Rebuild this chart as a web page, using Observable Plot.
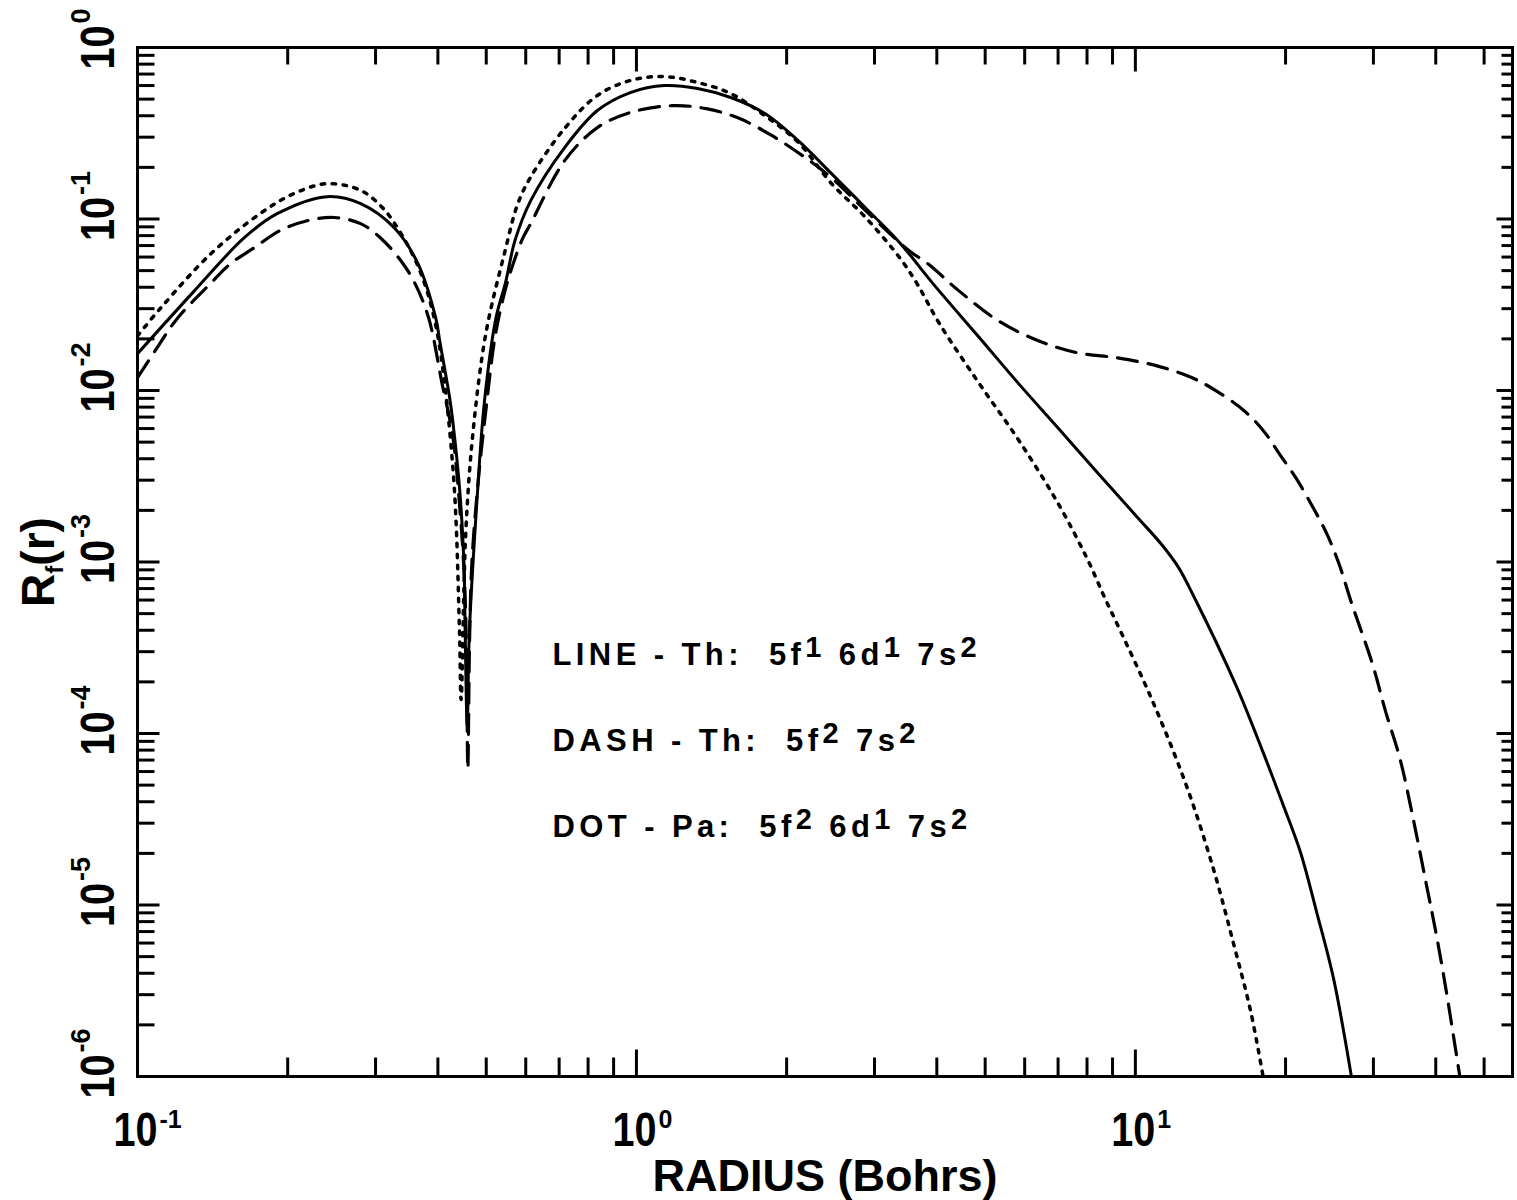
<!DOCTYPE html>
<html><head><meta charset="utf-8">
<script src="https://cdn.jsdelivr.net/npm/d3@7"></script>
<script src="https://cdn.jsdelivr.net/npm/@observablehq/plot@0.6"></script>
<style>html,body{margin:0;padding:0;background:#fff}</style>
</head><body><div id="chart"></div>
<script>
// ---- data: radius (Bohrs) and R_f(r) ----
const solidRadius = [0.1, 0.13, 0.1637, 0.1905, 0.24, 0.28, 0.327, 0.365, 0.396, 0.404, 0.422, 0.428, 0.443, 0.451, 0.4536, 0.458, 0.4624, 0.479, 0.496, 0.523, 0.547, 0.571, 0.614, 0.718, 0.835, 0.972, 1.138, 1.326, 1.545, 1.81, 2.11, 2.46, 2.88, 3.37, 3.93, 4.87, 5.84, 7.0, 8.44, 10.1, 11.3, 12.2, 13.06, 15.87, 18.0, 19.76, 21.4, 23.07, 24.96, 27.1];
const solidValue  = [0.0164, 0.0381, 0.0778, 0.1074, 0.135, 0.123, 0.089, 0.0548, 0.0265, 0.019, 0.0092, 0.0068, 0.0025, 0.0010, 0.0004, 0.00011, 0.00038, 0.00227, 0.0087, 0.0265, 0.043, 0.075, 0.128, 0.261, 0.429, 0.546, 0.600, 0.577, 0.511, 0.412, 0.286, 0.184, 0.116, 0.0728, 0.042, 0.0203, 0.01093, 0.00605, 0.00326, 0.00182, 0.00126, 0.00093, 0.00064, 0.000194, 0.0000787, 0.0000386, 0.0000205, 0.00000916, 0.00000372, 0.000001];

const dashRadius = [0.1, 0.1084, 0.1204, 0.14, 0.1535, 0.1714, 0.193, 0.2188, 0.248, 0.28, 0.3066, 0.3373, 0.36, 0.3833, 0.408, 0.428, 0.443, 0.452, 0.456, 0.4593, 0.463, 0.468, 0.482, 0.50, 0.52, 0.545, 0.57, 0.5925, 0.614, 0.718, 0.835, 0.972, 1.18, 1.38, 1.61, 1.87, 2.18, 2.46, 2.88, 3.52, 3.84, 4.43, 5.31, 6.39, 7.67, 9.22, 11.05, 13.0, 14.52, 16.54, 18.07, 19.45, 20.98, 22.5, 24.2, 25.6, 27.1, 29.87, 31.72, 33.9, 36.03, 38.3, 40.1, 42.0, 44.7];
const dashValue  = [0.0119, 0.017, 0.0265, 0.042, 0.0548, 0.068, 0.0855, 0.0977, 0.102, 0.094, 0.0778, 0.0571, 0.042, 0.0265, 0.0109, 0.0055, 0.0020, 0.0008, 0.00035, 0.000062, 0.00035, 0.0010, 0.003, 0.008, 0.02, 0.038, 0.058, 0.0778, 0.094, 0.219, 0.341, 0.418, 0.458, 0.440, 0.385, 0.306, 0.228, 0.174, 0.112, 0.0653, 0.0548, 0.0381, 0.0255, 0.0195, 0.01657, 0.01549, 0.01392, 0.01186, 0.00995, 0.0076, 0.00581, 0.00426, 0.00309, 0.00218, 0.00146, 0.000973, 0.00058, 0.000254, 0.000135, 0.0000716, 0.000032, 0.0000132, 0.00000673, 0.00000313, 0.000001];

const dotRadius = [0.1, 0.111, 0.1397, 0.176, 0.2057, 0.24, 0.28, 0.3066, 0.327, 0.365, 0.396, 0.4287, 0.4418, 0.4452, 0.4548, 0.47, 0.499, 0.5455, 0.578, 0.614, 0.72, 0.835, 0.972, 1.138, 1.326, 1.545, 1.81, 2.11, 2.46, 2.88, 3.37, 3.65, 4.05, 4.87, 5.85, 7.01, 8.0, 8.69, 9.28, 10.83, 12.63, 14.33, 15.75, 17.03, 18.03];
const dotValue  = [0.0208, 0.030, 0.062, 0.1074, 0.1405, 0.1607, 0.147, 0.12, 0.095, 0.053, 0.024, 0.00353, 0.00041, 0.000158, 0.00146, 0.00558, 0.0214, 0.0653, 0.122, 0.176, 0.341, 0.525, 0.642, 0.677, 0.625, 0.539, 0.40, 0.28, 0.161, 0.102, 0.0594, 0.042, 0.0245, 0.01093, 0.00508, 0.00218, 0.00105, 0.000615, 0.000411, 0.000154, 0.0000505, 0.0000163, 0.00000588, 0.00000239, 0.000001];

// ---- axes ----
const xMajor = [0.1, 1, 10];
const xTickLabels = ["10^{-1}", "10^{0}", "10^{1}"];
const xMinor = [0.2, 0.3, 0.4, 0.5, 0.6, 0.7, 0.8, 0.9, 2, 3, 4, 5, 6, 7, 8, 9, 20, 30, 40, 50];
const yMajor = [1e-6, 1e-5, 1e-4, 1e-3, 1e-2, 1e-1, 1];
const yTickLabels = ["10^{-6}", "10^{-5}", "10^{-4}", "10^{-3}", "10^{-2}", "10^{-1}", "10^{0}"];
const yMinor = yMajor.slice(0, -1).flatMap(p => [2, 3, 4, 5, 6, 7, 8, 9].map(k => k * p));

const xTitle = "RADIUS (Bohrs)";
const yTitle = "R_{f}(r)";
const legendLines = [
  "LINE - Th:\u00a0\u00a05f^{1} 6d^{1} 7s^{2}",
  "DASH - Th:\u00a0\u00a05f^{2} 7s^{2}",
  "DOT - Pa:\u00a0\u00a05f^{2} 6d^{1} 7s^{2}"
];

const rows = (rs, vs) => rs.map((r, i) => ({r, v: vs[i]}));
const solid = rows(solidRadius, solidValue);
const dashed = rows(dashRadius, dashValue);
const dotted = rows(dotRadius, dotValue);

const sans = "'Liberation Sans', Arial, Helvetica, sans-serif";

const tickShape = {draw(ctx, l) { ctx.moveTo(0, 0); ctx.lineTo(0, -l); }};
function ticks(values, channel, anchor, rotate, length) {
  return Plot.vector(values, {[channel]: d => d, frameAnchor: anchor, rotate, length, anchor: "start",
    shape: tickShape, stroke: "black", strokeWidth: 3, strokeLinecap: "butt"});
}

const legendMarks = legendLines.map((s, i) => Plot.text([s], {
  frameAnchor: "top-left", dx: 415, dy: 617 + i * 86, textAnchor: "start", lineAnchor: "bottom",
  fontSize: 31, fontWeight: "bold", fontFamily: sans, fill: "black", className: "legend"
}));

const svg = Plot.plot({
  width: 1517, height: 1200,
  marginLeft: 137, marginRight: 5, marginTop: 47, marginBottom: 124,
  style: {background: "white", overflow: "visible"},
  x: {type: "log", domain: [0.1, 57], axis: null},
  y: {type: "log", domain: [1e-6, 1], axis: null},
  marks: [
    Plot.line(dotted, {x: "r", y: "v", stroke: "black", strokeWidth: 3.5, strokeDasharray: "3.5,7.5", curve: "catmull-rom", clip: true}),
    Plot.line(dashed, {x: "r", y: "v", stroke: "black", strokeWidth: 3.2, strokeDasharray: "20,11", curve: "catmull-rom", clip: true}),
    Plot.line(solid, {x: "r", y: "v", stroke: "black", strokeWidth: 3, curve: "catmull-rom", clip: true}),
    ticks(xMinor, "x", "bottom", 0, 19),
    ticks(xMajor, "x", "bottom", 0, 27),
    ticks(xMinor, "x", "top", 180, 17),
    ticks(xMajor, "x", "top", 180, 24),
    ticks(yMinor, "y", "left", 90, 17),
    ticks(yMajor, "y", "left", 90, 22),
    ticks(yMinor, "y", "right", -90, 11),
    ticks(yMajor, "y", "right", -90, 16),
    Plot.frame({stroke: "black", strokeWidth: 3}),
    Plot.text(xMajor, {x: d => d, text: (d, i) => xTickLabels[i], frameAnchor: "bottom", textAnchor: "start", lineAnchor: "bottom",
      dx: -24, dy: 69, fontSize: 48, fontWeight: "bold", fontFamily: sans, fill: "black", className: "xticklabels"}),
    Plot.text(yMajor, {y: d => d, text: (d, i) => yTickLabels[i], frameAnchor: "left", rotate: -90, textAnchor: "start", lineAnchor: "bottom",
      dx: -24, dy: 22, fontSize: 48, fontWeight: "bold", fontFamily: sans, fill: "black", className: "yticklabels"}),
    Plot.text([xTitle], {frameAnchor: "bottom", dy: 114, textAnchor: "middle", lineAnchor: "bottom",
      fontSize: 45, fontWeight: "bold", fontFamily: sans, fill: "black", className: "xtitle"}),
    Plot.text([yTitle], {frameAnchor: "left", dx: -84, rotate: -90, textAnchor: "middle", lineAnchor: "bottom",
      fontSize: 46, fontWeight: "bold", fontFamily: sans, fill: "black", className: "ytitle"}),
    ...legendMarks
  ]
});

const styles = {
  xticklabels: {supSize: 25, supRise: 18, mainLength: 44, supGap: 2},
  yticklabels: {supSize: 27, supRise: 24, mainLength: 44, supGap: 2},
  ytitle: {subSize: 24, subDrop: 9},
  legend: {supSize: 29, supRise: 8, letterSpacing: 4.4}
};
function richText(root) {
  root.querySelectorAll("text").forEach(t => {
    const s = t.textContent;
    let o = null;
    for (const k in styles) if (t.closest("." + k)) o = styles[k];
    if (!o) return;
    if (o.letterSpacing) t.setAttribute("letter-spacing", o.letterSpacing);
    if (!/[\^_]\{/.test(s)) return;
    const parts = s.split(/(\^\{[^}]*\}|_\{[^}]*\})/);
    while (t.firstChild) t.removeChild(t.firstChild);
    let shift = 0, first = true;
    for (const p of parts) {
      if (!p) continue;
      const ts = document.createElementNS("http://www.w3.org/2000/svg", "tspan");
      let target = 0;
      if (p.startsWith("^{")) {
        ts.textContent = p.slice(2, -1); ts.setAttribute("font-size", o.supSize); target = -o.supRise;
        if (o.supGap) ts.setAttribute("dx", o.supGap);
      }
      else if (p.startsWith("_{")) { ts.textContent = p.slice(2, -1); ts.setAttribute("font-size", o.subSize); target = o.subDrop; }
      else {
        ts.textContent = p;
        if (first && o.mainLength) { ts.setAttribute("textLength", o.mainLength); ts.setAttribute("lengthAdjust", "spacingAndGlyphs"); }
      }
      first = false;
      ts.setAttribute("dy", target - shift);
      shift = target;
      t.appendChild(ts);
    }
  });
}
richText(svg);

document.getElementById("chart").appendChild(svg);
</script></body></html>
